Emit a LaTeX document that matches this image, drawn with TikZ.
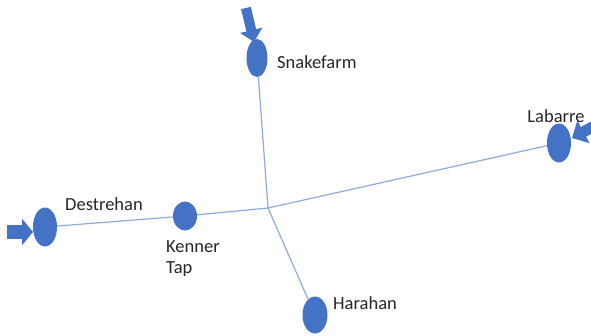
\documentclass[tikz,border=0pt]{standalone}
\usepackage{fontspec}
\setmainfont{Carlito}
\usetikzlibrary{arrows.meta,shapes.geometric}
\definecolor{nodeblue}{RGB}{68,114,196}
\definecolor{linkblue}{RGB}{143,170,220}
\definecolor{txt}{RGB}{38,38,38}
\tikzset{
  station/.style={ellipse, fill=nodeblue, inner sep=0pt},
  link/.style={draw=linkblue, line width=1.2pt},
  feed/.style={draw=nodeblue, line width=10pt, -{Triangle[width=22pt,length=12pt]}},
  lbl/.style={text=txt, font=\fontsize{18.5}{21}\selectfont, inner sep=0pt},
}
\begin{document}
\begin{tikzpicture}[x=1pt,y=-1pt]
\useasboundingbox (0,0) rectangle (591,335);
\clip (0,0) rectangle (591,335);
% stations
\node[station, minimum width=21pt, minimum height=38pt] (snake) at (257,58) {};
\node[station, minimum width=24pt, minimum height=39pt] (labarre) at (559,143) {};
\node[station, minimum width=24pt, minimum height=39pt] (destrehan) at (45,227) {};
\node[station, minimum width=24pt, minimum height=29pt] (kenner) at (185,216) {};
\node[station, minimum width=25pt, minimum height=37pt] (harahan) at (315,315) {};
\coordinate (junc) at (268,208);
% links
\draw[link] (snake) -- (junc);
\draw[link] (labarre) -- (junc);
\draw[link] (kenner) -- (junc);
\draw[link] (destrehan) -- (kenner);
\draw[link] (harahan) -- (junc);
% feed arrows
\coordinate (ta) at (246,8);
\coordinate (tb) at (598,124);
\coordinate (tc) at (7,232);
\draw[feed] (ta) -- (254,42);
\draw[feed, line width=11pt, -{Triangle[width=25pt,length=13pt]}] (tb) -- (572,138);
\draw[feed, line width=14pt, -{Triangle[width=26pt,length=11pt]}] (tc) -- (33,232);
% labels
\node[lbl, anchor=west] (lsnake) at (277,62) {Snakefarm};
\node[lbl] (llabarre) at (556,116) {Labarre};
\node[lbl] (ldes) at (104,204) {Destrehan};
\node[lbl, anchor=west, align=left] (lken) at (166,259) {Kenner\\Tap};
\node[lbl, anchor=west] (lhar) at (333,303) {Harahan};
\end{tikzpicture}
\end{document}
